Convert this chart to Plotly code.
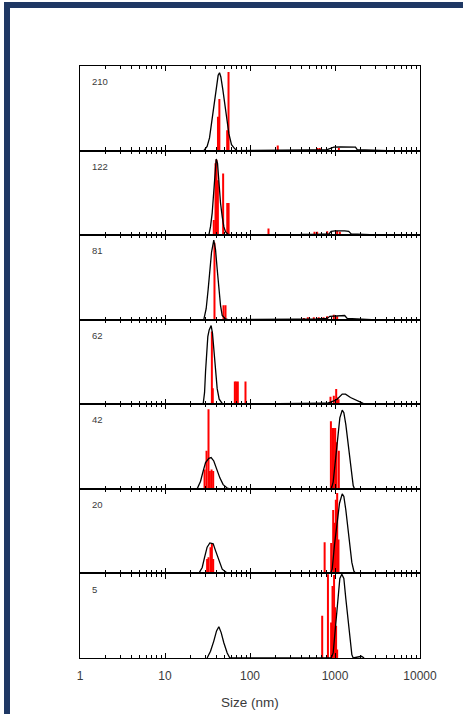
import plotly.graph_objects as go
from plotly.subplots import make_subplots

panel_labels = ["210", "122", "81", "62", "42", "20", "5"]

tick_vals = [1, 10, 100, 1000, 10000]
tick_text = ["1", "10", "100", "1000", "10000"]

# ---- black intensity curves (size nm, relative intensity) ----
c210_size = [28.6, 31.3, 33.4, 35.3, 37.5, 40.0, 42.2, 43.8, 45.4, 47.9, 50.5, 53.9, 56.4, 60.6, 66.3, 70.6,
             101, 393, 520, 809, 968, 1160, 1500, 1743, 1823, 2500, 3924, 4200]
c210_int = [0, 0.05, 0.15, 0.32, 0.56, 0.76, 0.89, 0.92, 0.87, 0.72, 0.56, 0.36, 0.2, 0.07, 0.02, 0,
            0, 0.005, 0.008, 0.012, 0.04, 0.042, 0.042, 0.04, 0.01, 0.006, 0.004, 0]

c122_size = [32.8, 34.3, 35.9, 37.5, 38.5, 40.0, 41.5, 43.0, 45.0, 47.1, 49.2, 51.5, 56.4,
             359, 400, 600, 850, 900, 1000, 1300, 1450, 1550, 2500, 3500, 3600]
c122_int = [0, 0.1, 0.26, 0.49, 0.73, 0.9, 0.85, 0.61, 0.38, 0.22, 0.1, 0.04, 0,
            0, 0.008, 0.01, 0.015, 0.045, 0.05, 0.05, 0.045, 0.015, 0.01, 0.008, 0]

c81_size = [28.6, 30.5, 32.2, 33.7, 35.3, 37.5, 39.3, 41.1, 43.0, 45.0, 47.1, 51.5, 55,
            284, 350, 600, 809, 870, 1100, 1300, 1390, 2000, 2617, 2700]
c81_int = [0, 0.13, 0.36, 0.6, 0.8, 0.94, 0.83, 0.6, 0.36, 0.17, 0.05, 0.01, 0,
           0, 0.008, 0.01, 0.015, 0.04, 0.05, 0.05, 0.015, 0.01, 0.006, 0]

c62_size = [28.1, 29.2, 30.0, 30.8, 31.9, 33.1, 34.9, 36.2, 37.5, 38.9, 41.1, 43.4, 47.1, 49.2,
            462, 809, 968, 1061, 1216, 1330, 1521, 1823, 2145, 2300]
c62_int = [0, 0.14, 0.39, 0.64, 0.8, 0.88, 0.93, 0.84, 0.64, 0.39, 0.185, 0.06, 0.01, 0,
           0.008, 0.012, 0.04, 0.06, 0.12, 0.12, 0.08, 0.04, 0.01, 0]

c42_size = [23.9, 26.2, 28.1, 30.0, 32.8, 34.9, 37.5, 40.4, 44.2, 48.3, 53.9, 57.9,
            902, 952, 1014, 1080, 1140, 1216, 1271, 1341, 1416, 1495, 1578, 1637, 1695]
c42_int = [0, 0.09, 0.21, 0.31, 0.36, 0.37, 0.33, 0.23, 0.13, 0.05, 0.01, 0,
           0, 0.08, 0.35, 0.63, 0.84, 0.93, 0.9, 0.76, 0.55, 0.35, 0.14, 0.04, 0]

c20_size = [25.0, 27.4, 29.2, 31.3, 33.7, 36.9, 39.3, 43.0, 47.1, 52.9, 57.9,
            885, 927, 987, 1061, 1130, 1216, 1271, 1341, 1416, 1495, 1578, 1664, 1743]
c20_int = [0, 0.07, 0.19, 0.31, 0.36, 0.35, 0.27, 0.15, 0.05, 0.01, 0,
           0, 0.05, 0.34, 0.58, 0.83, 0.94, 0.91, 0.75, 0.54, 0.34, 0.13, 0.03, 0]

c5_size = [31.3, 34.3, 37.5, 40.4, 43.0, 45.8, 49.2, 53.9, 57.9,
           902, 952, 1014, 1080, 1140, 1203, 1271, 1341, 1416, 1495, 1578, 1637, 1900, 2050, 2200]
c5_int = [0, 0.08, 0.2, 0.32, 0.37, 0.3, 0.18, 0.06, 0,
          0, 0.06, 0.38, 0.7, 0.94, 0.99, 0.94, 0.7, 0.46, 0.22, 0.04, 0, 0.015, 0.02, 0]

# ---- red bars (size nm, relative height) ----
r210_size = [42.0, 43.6, 53.9, 55.9, 212, 620, 660, 1110]
r210_h = [0.40, 0.61, 0.24, 0.93, 0.06, 0.03, 0.03, 0.03]

r122_size = [37.5, 39.3, 40.4, 41.9, 48.3, 54.0, 56.0, 165, 574, 617, 809, 1060, 1140]
r122_h = [0.18, 0.85, 0.89, 0.65, 0.73, 0.38, 0.38, 0.08, 0.04, 0.04, 0.045, 0.05, 0.04]

r81_size = [38.2, 48.8, 51.5, 430, 479, 563, 643, 733, 809, 968, 1060]
r81_h = [0.91, 0.17, 0.17, 0.02, 0.03, 0.03, 0.03, 0.03, 0.04, 0.06, 0.04]

r62_size = [35.6, 36.5, 66.3, 68.8, 71.9, 88.5, 885, 968, 1033, 1061, 1100]
r62_h = [0.86, 0.19, 0.27, 0.27, 0.27, 0.27, 0.09, 0.1, 0.18, 0.08, 0.06]

r42_size = [29.2, 30.8, 32.5, 33.7, 35.3, 36.9, 895, 935, 968, 1005, 1042, 1109]
r42_h = [0.23, 0.45, 0.94, 0.21, 0.23, 0.21, 0.8, 0.72, 0.72, 0.72, 0.55, 0.45]

r20_size = [31.3, 32.5, 34.3, 35.6, 36.9, 755, 902, 952, 987, 1023, 1061, 1099]
r20_h = [0.17, 0.19, 0.31, 0.35, 0.17, 0.37, 0.36, 0.75, 0.6, 0.87, 0.95, 0.4]

r5_size = [707, 826, 900, 935, 975, 1000, 1030, 1060]
r5_h = [0.5, 0.99, 0.42, 0.85, 0.98, 0.6, 0.38, 0.1]

curves = [(c210_size, c210_int), (c122_size, c122_int), (c81_size, c81_int), (c62_size, c62_int),
          (c42_size, c42_int), (c20_size, c20_int), (c5_size, c5_int)]
bars = [(r210_size, r210_h), (r122_size, r122_h), (r81_size, r81_h), (r62_size, r62_h),
        (r42_size, r42_h), (r20_size, r20_h), (r5_size, r5_h)]

n = len(panel_labels)
fig = make_subplots(rows=n, cols=1, shared_xaxes=True, vertical_spacing=0)

FONT = "Liberation Sans, Arial, sans-serif"
TXT = "#3a3a3a"
minor_vals = [m * 10 ** k for k in range(4) for m in range(2, 10)]

for i in range(n):
    row = i + 1
    bx, bh = bars[i]
    X, Y = [], []
    for x, h in zip(bx, bh):
        X += [x, x, None]
        Y += [0, h, None]
    fig.add_trace(go.Scatter(x=X, y=Y, mode="lines", line=dict(color="#ff0000", width=2),
                             hoverinfo="skip", showlegend=False), row=row, col=1)
    cx, cy = curves[i]
    fig.add_trace(go.Scatter(x=cx, y=cy, mode="lines", line=dict(color="black", width=1.3),
                             showlegend=False), row=row, col=1)
    fig.update_xaxes(type="log", range=[0, 4], showline=True, linecolor="black", linewidth=1.3,
                     mirror="ticks", ticks="inside", ticklen=5, tickwidth=1, tickcolor="black",
                     tickmode="array", tickvals=tick_vals, ticktext=tick_text,
                     minor=dict(tickmode="array", tickvals=minor_vals, ticks="inside", ticklen=3,
                                tickwidth=1, tickcolor="black", showgrid=False),
                     showgrid=False, zeroline=False,
                     showticklabels=(row == n), ticklabelstandoff=6,
                     tickfont=dict(family=FONT, size=12, color=TXT),
                     row=row, col=1)
    fig.update_yaxes(range=[0, 1.0], showline=True, linecolor="black", linewidth=1.3, mirror=True,
                     ticks="", showticklabels=False, showgrid=False, zeroline=False,
                     row=row, col=1)
    yname = "y" if row == 1 else "y%d" % row
    xname = "x" if row == 1 else "x%d" % row
    fig.add_annotation(text=panel_labels[i], xref=xname + " domain", yref=yname + " domain",
                       x=0.028, y=0.815, xanchor="left", yanchor="middle", showarrow=False,
                       font=dict(family=FONT, size=9.5, color=TXT))

fig.add_annotation(text="Size (nm)", xref="paper", yref="paper", x=0.5, y=-0.076,
                   xanchor="center", yanchor="middle", showarrow=False,
                   font=dict(family=FONT, size=13.5, color=TXT))

fig.add_shape(type="rect", xref="paper", yref="paper", x0=-0.2147, y0=-0.12, x1=1.16, y1=1.1030,
              line=dict(color="#1f3864", width=6), fillcolor="rgba(0,0,0,0)", layer="above")

fig.update_layout(template="none", width=463, height=714, autosize=False,
                  margin=dict(l=80, r=43, t=66, b=56),
                  paper_bgcolor="white", plot_bgcolor="white",
                  font=dict(family=FONT, color=TXT))

fig.write_html("out.html", config={"displayModeBar": False},
               post_script="document.body.style.margin='0';document.body.style.overflow='hidden';")
